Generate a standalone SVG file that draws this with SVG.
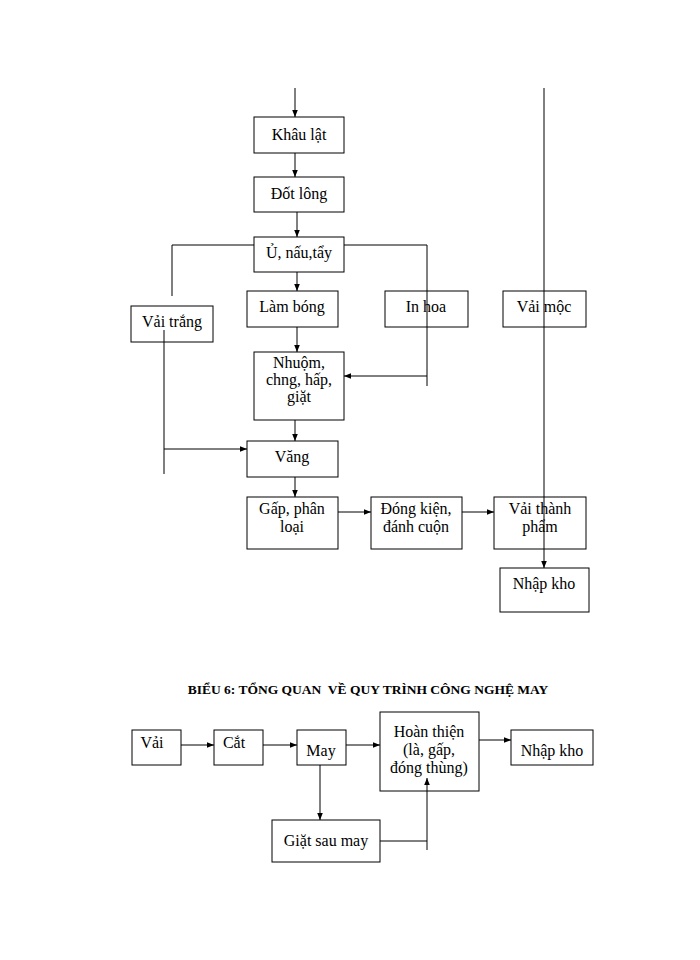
<svg xmlns="http://www.w3.org/2000/svg" width="700" height="960" viewBox="0 0 700 960">
<defs><marker id="a" viewBox="0 0 10 10" refX="10" refY="5" markerWidth="7" markerHeight="7" orient="auto"><path d="M0,1 L10,5 L0,9 z" fill="#000"/></marker></defs>
<style>rect{fill:#fff;stroke:#000;stroke-width:1}text{font-family:"Liberation Serif",serif;font-size:16px;text-anchor:middle;fill:#000}.l{stroke:#000;stroke-width:1;fill:none}.ar{marker-end:url(#a)}.t{font-weight:bold;font-size:13.5px;white-space:pre}</style>
<rect x="0" y="0" width="700" height="960" style="stroke:none"/>
<g id="n1"><rect x="254" y="117" width="90" height="36"/><text x="299" y="140">Khâu lật</text></g>
<g id="n2"><rect x="254" y="177" width="90" height="35"/><text x="299" y="199">Đốt lông</text></g>
<g id="n3"><rect x="254" y="237" width="90" height="35"/><text x="299" y="258">Ủ, nấu,tẩy</text></g>
<g id="n4"><rect x="247" y="291" width="91" height="36"/><text x="292" y="312">Làm bóng</text></g>
<g id="n5"><rect x="385" y="291" width="83" height="36"/><text x="426" y="312">In hoa</text></g>
<g id="n6"><rect x="503" y="291" width="83" height="36"/><text x="544" y="312">Vải mộc</text></g>
<g id="n7"><rect x="131" y="306" width="82" height="36"/><text x="172" y="327">Vải trắng</text></g>
<g id="n8"><rect x="254" y="352" width="90" height="68"/><text x="299" y="368">Nhuộm,</text><text x="299" y="385">chng,   hấp,</text><text x="299" y="402">giặt</text></g>
<g id="n9"><rect x="247" y="441" width="91" height="36"/><text x="292" y="462">Văng</text></g>
<g id="n10"><rect x="247" y="497" width="91" height="52"/><text x="292" y="514">Gấp, phân</text><text x="292" y="532">loại</text></g>
<g id="n11"><rect x="371" y="497" width="91" height="52"/><text x="416" y="514">Đóng kiện,</text><text x="416" y="532">đánh cuộn</text></g>
<g id="n12"><rect x="494" y="497" width="92" height="52"/><text x="540" y="514">Vải thành</text><text x="540" y="532">phẩm</text></g>
<g id="n13"><rect x="500" y="568" width="89" height="44"/><text x="544" y="589">Nhập kho</text></g>
<text class="t" x="368" y="694">BIỂU 6: TỔNG QUAN  VỀ QUY TRÌNH CÔNG NGHỆ MAY</text>
<g id="m1"><rect x="132" y="730" width="49" height="35"/><text x="152" y="748">Vải</text></g>
<g id="m2"><rect x="214" y="730" width="49" height="35"/><text x="234" y="748">Cắt</text></g>
<g id="m3"><rect x="297" y="730" width="49" height="35"/><text x="321" y="756">May</text></g>
<g id="m4"><rect x="380" y="712" width="99" height="79"/><text x="429" y="737">Hoàn thiện</text><text x="429" y="755">(là, gấp,</text><text x="429" y="773">đóng thùng)</text></g>
<g id="m5"><rect x="511" y="730" width="82" height="35"/><text x="552" y="756">Nhập kho</text></g>
<g id="m6"><rect x="272" y="820" width="108" height="42"/><text x="326" y="846">Giặt sau may</text></g>
<g id="connectors">
<path class="l ar" d="M295,88 V117"/>
<path class="l ar" d="M295,153 V177"/>
<path class="l ar" d="M297,212 V237"/>
<path class="l" d="M172,296 V245 H254 M344,245 H427 V386"/>
<path class="l ar" d="M297,272 V291"/>
<path class="l ar" d="M297,327 V352"/>
<path class="l ar" d="M427,376 H344"/>
<path class="l" d="M164,330 V474"/>
<path class="l ar" d="M164,449 H247"/>
<path class="l ar" d="M295,420 V441"/>
<path class="l ar" d="M295,477 V497"/>
<path class="l ar" d="M338,512 H371"/>
<path class="l ar" d="M462,512 H494"/>
<path class="l ar" d="M544,88 V568"/>
<path class="l ar" d="M181,745 H214"/>
<path class="l ar" d="M263,745 H297"/>
<path class="l ar" d="M346,745 H380"/>
<path class="l ar" d="M479,740 H511"/>
<path class="l ar" d="M320,765 V820"/>
<path class="l" d="M380,841 H427"/>
<path class="l ar" d="M427,850 V778"/>
</g>
</svg>
